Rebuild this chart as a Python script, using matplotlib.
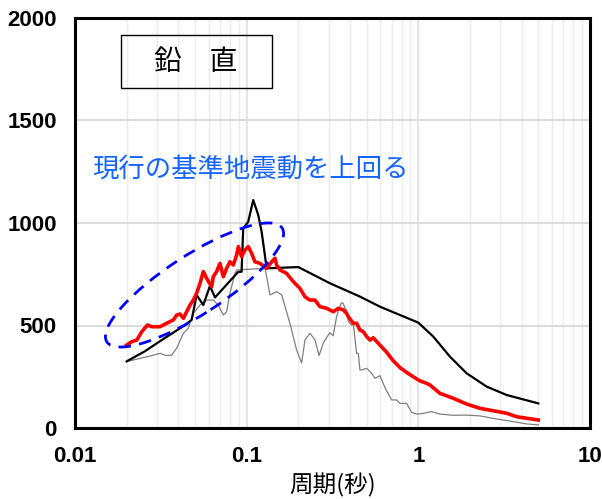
import matplotlib
matplotlib.use("Agg")
import matplotlib.pyplot as plt
from matplotlib.patches import Ellipse, Rectangle

plt.rcParams['font.family'] = ['Noto Sans CJK JP', 'DejaVu Sans']

# ---------------- data ----------------
black_T = [0.02, 0.0256, 0.032, 0.0437, 0.0478, 0.0511, 0.0559, 0.0611, 0.0654,
           0.0894, 0.0934, 0.0955, 0.1021, 0.1092, 0.1168, 0.1222, 0.1308,
           0.20, 0.3055, 0.457, 0.597, 1.0, 1.222, 1.528, 1.91, 2.5, 3.27, 5.0]
black_v = [325, 375, 429, 502, 527, 649, 600, 693, 637,
           762, 762, 974, 1006, 1112, 1039, 958, 779,
           785, 706, 641, 592, 514, 446, 348, 267, 202, 161, 120]

red_T = [0.0200, 0.0214, 0.0229, 0.0245, 0.0264, 0.0280, 0.0299, 0.0313, 0.0342,
         0.0374, 0.0391, 0.0409, 0.0428, 0.0447, 0.0468, 0.0489, 0.0511, 0.0535,
         0.0559, 0.0585, 0.0625, 0.0639, 0.0668, 0.0699, 0.0731, 0.0764, 0.0799,
         0.0836, 0.0874, 0.0894, 0.0935, 0.0977, 0.1022, 0.1069, 0.1117, 0.1196,
         0.1279, 0.1307, 0.1429, 0.1462, 0.1495, 0.1563, 0.171, 0.187, 0.2044,
         0.2186, 0.2337, 0.25, 0.267, 0.2923, 0.3195, 0.3417, 0.3653, 0.382,
         0.391, 0.418, 0.437, 0.457, 0.478, 0.500, 0.523, 0.546, 0.597, 0.653,
         0.714, 0.781, 0.855, 0.934, 1.021, 1.117, 1.168, 1.336, 1.597, 1.91,
         2.286, 3.27, 3.74, 5.0]
red_v = [405, 421, 429, 470, 502, 494, 494, 494, 511,
         527, 551, 556, 535, 567, 600, 624, 657, 706,
         763, 730, 689, 738, 763, 803, 738, 779, 811,
         795, 844, 885, 836, 868, 885, 852, 811, 803,
         784, 779, 820, 828, 795, 771, 754, 714, 681,
         640, 624, 624, 592, 584, 567, 584, 576, 559,
         543, 511, 511, 478, 470, 446, 429, 440, 405, 370,
         328, 295, 271, 250, 230, 218, 210, 169, 145, 117,
         96, 72, 55, 39]

gray_T = [0.020, 0.0273, 0.0313, 0.0342, 0.0366, 0.0391, 0.0428, 0.0457, 0.0489,
          0.0535, 0.0585, 0.0639, 0.0683, 0.0731, 0.0764, 0.0799, 0.0855, 0.0874,
          0.128, 0.1367, 0.1495, 0.160, 0.1787, 0.1955, 0.209, 0.2186, 0.2337,
          0.25, 0.264, 0.279, 0.286, 0.305, 0.319, 0.334, 0.349, 0.357, 0.365,
          0.374, 0.382, 0.391, 0.409, 0.418, 0.437, 0.447, 0.457, 0.468, 0.500,
          0.535, 0.559, 0.597, 0.645, 0.699, 0.747, 0.781, 0.855, 0.914, 0.977,
          1.045, 1.194, 1.336, 1.597, 1.91, 2.286, 2.73, 3.57, 4.27, 5.0]
gray_v = [324, 351, 364, 353, 356, 389, 462, 486, 559,
          600, 624, 624, 600, 551, 567, 657, 754, 771,
          779, 649, 665, 649, 510, 380, 317, 429, 462,
          430, 353, 413, 429, 465, 450, 543, 592, 611, 608,
          584, 576, 519, 502, 511, 364, 364, 283, 283, 291,
          267, 242, 255, 190, 137, 137, 120, 120, 76, 68,
          70, 80, 68, 62, 63, 59, 47, 31, 20, 15]

x_ticks = [0.01, 0.1, 1, 10]
x_tick_labels = ['0.01', '0.1', '1', '10']
y_ticks = [0, 500, 1000, 1500, 2000]
y_tick_labels = ['0', '500', '1000', '1500', '2000']

# ---------------- figure ----------------
W, H = 602, 499
fig = plt.figure(figsize=(W / 100, H / 100), dpi=100)
L, R, T, B = 75, 590, 18, 428
ax = fig.add_axes([L / W, 1 - B / H, (R - L) / W, (B - T) / H])

ax.set_xscale('log')
ax.set_xlim(0.01, 10)
ax.set_ylim(0, 2000)

ax.grid(which='minor', axis='x', color='#ececec', lw=1.0, zorder=0)
ax.grid(which='major', axis='x', color='#e4e4e4', lw=1.5, zorder=0)
ax.grid(which='major', axis='y', color='#dcdcdc', lw=1.5, zorder=0)
ax.set_axisbelow(True)

ax.plot(gray_T, gray_v, color='#7f7f7f', lw=0.9, zorder=3)
ax.plot(black_T, black_v, color='black', lw=1.6, zorder=4)
ax.plot(red_T, red_v, color='#ff0000', lw=2.6, zorder=5)

tick_font = dict(family=['Liberation Sans', 'DejaVu Sans'], weight='bold', size=16)
ax.set_xticks(x_ticks)
ax.set_xticklabels(x_tick_labels, fontdict=tick_font)
ax.set_yticks(y_ticks)
ax.set_yticklabels(y_tick_labels, fontdict=tick_font)
ax.tick_params(which='both', length=0)
ax.tick_params(axis='x', pad=13)
ax.tick_params(axis='y', pad=13)

for s in ax.spines.values():
    s.set_linewidth(2.2)
    s.set_color('black')

ax.set_xlabel('周期(秒)', fontsize=17, va='center')
ax.xaxis.set_label_coords(0.5, -(485 - B) / (B - T))

# title box
fig.patches.append(Rectangle((120.7 / 100, (H - 88.3) / 100), 151.6 / 100, 53.3 / 100,
                             transform=fig.dpi_scale_trans, fill=False,
                             edgecolor='black', lw=1.0, zorder=6))
fig.text(196 / W, 1 - 62 / H, '鉛　直', fontsize=20, ha='center', va='center', zorder=7)

# blue annotation
fig.text(92 / W, 1 - 169 / H, '現行の基準地震動を上回る', fontsize=19,
         color='#1464ff', ha='left', va='center', zorder=7)

ell = Ellipse((194.5 / 100, (H - 285) / 100), 209 / 100, 59 / 100, angle=33,
              transform=fig.dpi_scale_trans, fill=False, edgecolor='#0000ff',
              lw=2.0, linestyle=(0, (4.5, 3)), zorder=8)
fig.patches.append(ell)

fig.savefig('out.png', dpi=100)
